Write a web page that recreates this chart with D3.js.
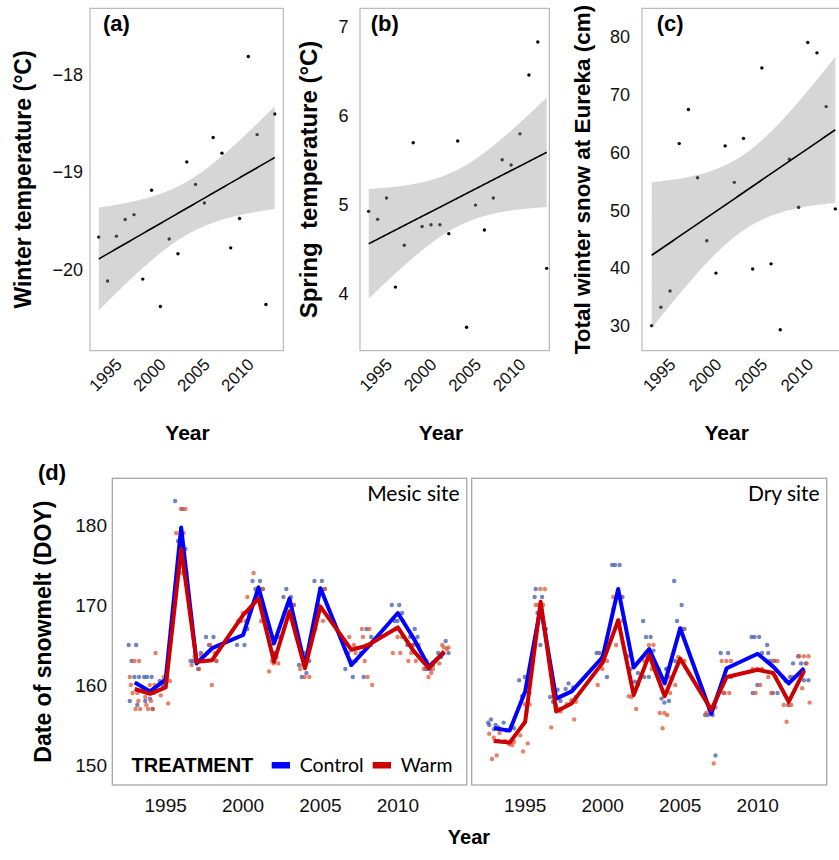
<!DOCTYPE html>
<html><head><meta charset="utf-8">
<script src="https://cdn.jsdelivr.net/npm/d3@7"></script>
<style>body{margin:0;background:#fff}</style>
</head><body><svg id="chart" width="839" height="860"></svg>
<script>
// ---------- data: panels (a)-(c) ----------
const years = [1993,1994,1995,1996,1997,1998,1999,2000,2001,2002,2003,2004,2005,2006,2007,2008,2009,2010,2011,2012,2013];
const winterTemp = [-19.67,-20.12,-19.66,-19.49,-19.44,-20.10,-19.19,-20.38,-19.69,-19.84,-18.90,-19.13,-19.32,-18.65,-18.81,-19.78,-19.48,-17.82,-18.62,-20.36,-18.41];
const springTemp = [4.92,4.83,5.07,4.07,4.54,5.69,4.75,4.77,4.77,4.67,5.71,3.62,4.99,4.71,5.07,5.50,5.44,5.79,6.45,6.82,4.28];
const winterSnow = [30.0,33.2,36.0,61.5,67.4,55.6,44.7,39.1,61.1,54.8,62.4,39.8,74.6,40.7,29.3,58.8,50.5,79.0,77.2,67.9,50.2];
const topXTicks = [1995,2000,2005,2010];
const winterTicks = [-20,-19,-18];
const springTicks = [4,5,6,7];
const snowTicks = [30,40,50,60,70,80];

// ---------- data: panel (d) ----------
const siteYears = [1993,1994,1995,1996,1997,1998,2000,2001,2002,2003,2004,2005,2007,2008,2010,2011,2012,2013];
const mesicControl = [160.3,159.2,160.7,179.7,162.7,164.6,166.25,172.2,165.2,170.8,162.4,172.1,162.5,164.6,169.0,165.9,162.3,164.1];
const mesicWarm    = [159.5,158.9,159.7,177.0,162.9,163.1,168.75,170.8,162.9,169.2,162.1,169.8,164.4,164.9,167.2,164.3,162.1,164.2];
const dryControl   = [154.6,154.3,159.2,169.8,158.3,159.2,163.5,172.0,162.2,164.5,160.2,167.1,156.4,162.1,163.9,162.3,160.2,162.1];
const dryWarm      = [153.0,152.8,155.4,170.4,156.7,157.7,162.8,168.1,158.75,163.75,158.6,163.3,156.9,161.0,161.9,161.5,157.9,161.8];
const dXTicks = [1995,2000,2005,2010];
const dYTicks = [150,160,170,180];

// plot-level observations, one list of DOY values per entry of siteYears
const mesicControlObs = [
 [165,165,163,161,161,158,157.5],[161,161,161,159.5,158.3,158,157],[160.5,161,160],[183,182,178,177],
 [163,162,163,164],[166,166,165,163],[165,165,168,167],[173,173,172,172,171],[167,164,165,166,164],
 [171,171,172,170,170],[162.5,161.5,161,163,164],[173,173,170,172,172],[162,161,164,163,162.5],
 [164,165,161,166,167],[170,170,168,169,168],[165,167,166,166,165],[163,162,162,162.5,162],[164,165.5,163.5,164]
];
const mesicWarmObs = [
 [163,163,161,159,159,157,157,160,158],[160,160,158.5,157,157,164,158,157.5,159],[160.5,160.5,158.7,157.7,161],
 [182,182,179,179,177,174,174],[163.7,163,162.5,162,163.5],[163,160,164,164,165],[171,169,168,168,168,169],
 [172,172,174,168,171],[162.7,162.7,161.7,163.5,163],[170,170,169,168.3,170],[161,161,162,163,162.5],
 [172,172,167,168,170],[164,163,164,165,166],[165,165,167,167,163,160,161,166],[166,166,164,164,167,168],
 [165,165,163,163,164,165],[162,161,162,161.5,163],[164.7,164.7,162.7,164.5,165]
];
const dryControlObs = [
 [155.3,155,155.7,154.7,154.5,155],[155.3,154.8,154.3,154.6],[160.6,156.7,158.6,159,161],[171,171,169,167,165,172],
 [158.5,159.4,157.9,158,157.5],[159.5,159.7,160.2,158.5],[164,164,164,161,163.5],[175,175,175,171,171,169.5],
 [163.6,160.4,162,161.5],[168,166,166,164.3,161,161],[162,162,158.3,158,157.8,161,162],[173,170,168,167,167,163],
 [156.25,156.25,156.25,151.2,157],[164,164,159,161,162],[166,166,166,164,160,159],[165,163,163,159,159,164],
 [161,161,160.5,162.7,157.5],[163.6,162.7,162.7,160.6,160.6]
];
const dryWarmObs = [
 [153,153.4,153.9,151.2,150.75,154,153],[152.9,152.6,153,152.5],[157.6,157.6,153.7,152.7,151.7],[172,172,170,170,170,167],
 [156.7,157.3,154.7,157],[157.9,158.1,157.6,155.7],[163,162,160,164],[168,168,171,171,165],[160,159.2,158.6,157,158.5],
 [165,165,163,162,163.5],[161,156.5,156.5,156.25,154.6,159],[163,163,160,167,163.5],[157.2,157.2,156.5,150.2,157],
 [163,163,163,159,159],[162,162,162,160,159],[163,163,161,161,159],[161,157.5,157.5,157.5,155.4],[163.6,163.6,163.6,162.7,159.6,157.8]
];

// ---------- drawing ----------
const svg = d3.select("#chart");
const SANS = "'Liberation Sans', Arial, Helvetica, sans-serif";
const CAL = "Lato, 'Open Sans', sans-serif";
const fmt = d3.format("d");

function lmFit(xs, ys){
  const n = xs.length, xb = d3.mean(xs), yb = d3.mean(ys);
  let sxx=0, sxy=0; xs.forEach((x,i)=>{sxx+=(x-xb)**2; sxy+=(x-xb)*(ys[i]-yb);});
  const b = sxy/sxx, a = yb - b*xb;
  let sse=0; xs.forEach((x,i)=>{sse+=(ys[i]-(a+b*x))**2;});
  const s = Math.sqrt(sse/(n-2)), t = 2.093;
  return x => { const yh=a+b*x, se=s*Math.sqrt(1/n+(x-xb)**2/sxx); return {x, y:yh, lo:yh-t*se, hi:yh+t*se}; };
}

const topTop = 8.3, topBot = 350.7;
const topPanels = [
  {lab:"(a)", vals:winterTemp, xr:[90,283.5], fr:[90,283.3], yd:[-20.833,-17.327], ticks:winterTicks,
   title:"Winter temperature (°C)", tsize:23, titleX:23, tickR:83, yearX:187.5, labX:103},
  {lab:"(b)", vals:springTemp, xr:[359.8,555.6], fr:[360,549.3], yd:[3.356,7.199], ticks:springTicks,
   title:"Spring  temperature (°C)", tsize:24, titleX:308, tickR:348.5, yearX:441, labX:370.7},
  {lab:"(c)", vals:winterSnow, xr:[642.5,844.5], fr:[642,841], yd:[25.67,84.91], ticks:snowTicks,
   title:"Total winter snow at Eureka (cm)", tsize:22.5, titleX:581.7, tickR:630, yearX:726.7, labX:656.7}
];

topPanels.forEach((p,pi)=>{
  const x = d3.scaleLinear().domain([1992,2014]).range(p.xr);
  const y = d3.scaleLinear().domain(p.yd).range([topBot, topTop]);
  const g = svg.append("g");
  const cid = "clipTop"+pi;
  svg.append("clipPath").attr("id",cid).append("rect")
    .attr("x",p.fr[0]).attr("y",topTop).attr("width",p.fr[1]-p.fr[0]).attr("height",topBot-topTop);
  const inner = g.append("g").attr("clip-path",`url(#${cid})`);
  inner.selectAll("circle").data(years).join("circle")
    .attr("cx",d=>x(d)).attr("cy",(d,i)=>y(p.vals[i])).attr("r",1.7).attr("fill","#000");
  const f = lmFit(years, p.vals);
  const pts = d3.range(1993, 2013.0001, 0.2).map(f);
  inner.append("path").datum(pts)
    .attr("d", d3.area().x(d=>x(d.x)).y0(d=>y(d.lo)).y1(d=>y(d.hi)))
    .attr("fill","#999").attr("fill-opacity",0.4);
  inner.append("path").datum(pts)
    .attr("d", d3.line().x(d=>x(d.x)).y(d=>y(d.y)))
    .attr("fill","none").attr("stroke","#000").attr("stroke-width",1.6);
  g.append("rect").attr("x",p.fr[0]).attr("y",topTop).attr("width",p.fr[1]-p.fr[0]).attr("height",topBot-topTop)
    .attr("fill","none").attr("stroke","#ababab").attr("stroke-width",1);
  g.selectAll("text.yt").data(p.ticks).join("text").attr("class","yt")
    .attr("x",p.tickR).attr("y",d=>y(d)).attr("dy","0.36em").attr("text-anchor","end")
    .attr("font-family",SANS).attr("font-size",18).attr("fill","#111").text(d=>fmt(d));
  g.selectAll("text.xt").data(topXTicks).join("text").attr("class","xt")
    .attr("x",d=>x(d)-2).attr("y",357).attr("dy","0.72em").attr("text-anchor","end")
    .attr("transform",d=>`rotate(-45 ${x(d)-2} 357)`)
    .attr("font-family",SANS).attr("font-size",17).attr("fill","#111").text(d=>d);
  g.append("text").attr("transform",`translate(${p.titleX},${(topTop+topBot)/2}) rotate(-90)`)
    .attr("dy","0.36em").attr("text-anchor","middle").attr("font-family",SANS).attr("font-weight","bold")
    .attr("font-size",p.tsize).attr("fill","#000").style("white-space","pre").text(p.title);
  g.append("text").attr("x",p.yearX).attr("y",440).attr("text-anchor","middle").attr("font-family",SANS)
    .attr("font-weight","bold").attr("font-size",21).text("Year");
  g.append("text").attr("x",p.labX).attr("y",31).attr("font-family",SANS).attr("font-weight","bold")
    .attr("font-size",22).text(p.lab);
});

// ---------- panel (d) ----------
const dTop = 478.3, dBot = 785;
const yD = d3.scaleLinear().domain([147.5,185.84]).range([dBot,dTop]);
const sites = [
  {name:"Mesic site", xr:[112.3,466.7], ctrl:mesicControl, warm:mesicWarm, ctrlObs:mesicControlObs, warmObs:mesicWarmObs},
  {name:"Dry site", xr:[471.7,826.7], ctrl:dryControl, warm:dryWarm, ctrlObs:dryControlObs, warmObs:dryWarmObs}
];
const jit = k => (((k*0.6180339887)%1) - 0.5)*0.78;

sites.forEach((s,si)=>{
  const x = d3.scaleLinear().domain([1991.55,2014.45]).range(s.xr);
  const g = svg.append("g");
  const cid = "clipD"+si;
  svg.append("clipPath").attr("id",cid).append("rect")
    .attr("x",s.xr[0]).attr("y",dTop).attr("width",s.xr[1]-s.xr[0]).attr("height",dBot-dTop);
  const inner = g.append("g").attr("clip-path",`url(#${cid})`);
  const mk = (obs, off) => obs.flatMap((vals,i)=>vals.map((v,k)=>({yr:siteYears[i]+jit(k+off), v})));
  inner.selectAll("circle.c").data(mk(s.ctrlObs,0)).join("circle").attr("class","c")
    .attr("cx",d=>x(d.yr)).attr("cy",d=>yD(d.v)).attr("r",2.2).attr("fill","#3f55a8").attr("fill-opacity",0.72);
  inner.selectAll("circle.w").data(mk(s.warmObs,3)).join("circle").attr("class","w")
    .attr("cx",d=>x(d.yr)).attr("cy",d=>yD(d.v)).attr("r",2.2).attr("fill","#e0502f").attr("fill-opacity",0.72);
  const line = d3.line().x(d=>x(d[0])).y(d=>yD(d[1]));
  inner.append("path").datum(siteYears.map((yr,i)=>[yr,s.ctrl[i]])).attr("d",line)
    .attr("fill","none").attr("stroke","#0000ff").attr("stroke-width",4).attr("stroke-linejoin","round");
  inner.append("path").datum(siteYears.map((yr,i)=>[yr,s.warm[i]])).attr("d",line)
    .attr("fill","none").attr("stroke","#cc0000").attr("stroke-width",4).attr("stroke-linejoin","round");
  g.append("rect").attr("x",s.xr[0]).attr("y",dTop).attr("width",s.xr[1]-s.xr[0]).attr("height",dBot-dTop)
    .attr("fill","none").attr("stroke","#a6a6a6").attr("stroke-width",1.3);
  g.append("text").attr("x",s.xr[1]-7).attr("y",501).attr("text-anchor","end").attr("font-family",CAL)
    .attr("font-size",21).attr("fill","#000").text(s.name);
  g.selectAll("text.xt").data(dXTicks).join("text").attr("class","xt")
    .attr("x",d=>x(d)).attr("y",812).attr("text-anchor","middle").attr("font-family",SANS)
    .attr("font-size",19).attr("fill","#111").text(d=>d);
});

svg.selectAll("text.dyt").data(dYTicks).join("text").attr("class","dyt")
  .attr("x",107).attr("y",d=>yD(d)).attr("dy","0.36em").attr("text-anchor","end")
  .attr("font-family",SANS).attr("font-size",19).attr("fill","#111").text(d=>d);
svg.append("text").attr("transform",`translate(43,${(dTop+dBot)/2}) rotate(-90)`).attr("dy","0.36em")
  .attr("text-anchor","middle").attr("font-family",SANS).attr("font-weight","bold").attr("font-size",23)
  .text("Date of snowmelt (DOY)");
svg.append("text").attr("x",469).attr("y",844).attr("text-anchor","middle").attr("font-family",SANS)
  .attr("font-weight","bold").attr("font-size",20).text("Year");
svg.append("text").attr("x",38).attr("y",480).attr("font-family",SANS).attr("font-weight","bold")
  .attr("font-size",22).text("(d)");

const leg = svg.append("g");
leg.append("text").attr("x",131.5).attr("y",772).attr("font-family",SANS).attr("font-weight","bold")
  .attr("font-size",20).text("TREATMENT");
const legItems = [{k:"Control", c:"#0000ff", x:271.7}, {k:"Warm", c:"#cc0000", x:372.7}];
legItems.forEach(it=>{
  leg.append("rect").attr("x",it.x).attr("y",762).attr("width",18.3).attr("height",6.5).attr("fill",it.c);
  leg.append("text").attr("x",it.x+28).attr("y",772).attr("font-family",CAL).attr("font-size",19.5).text(it.k);
});
</script></body></html>
